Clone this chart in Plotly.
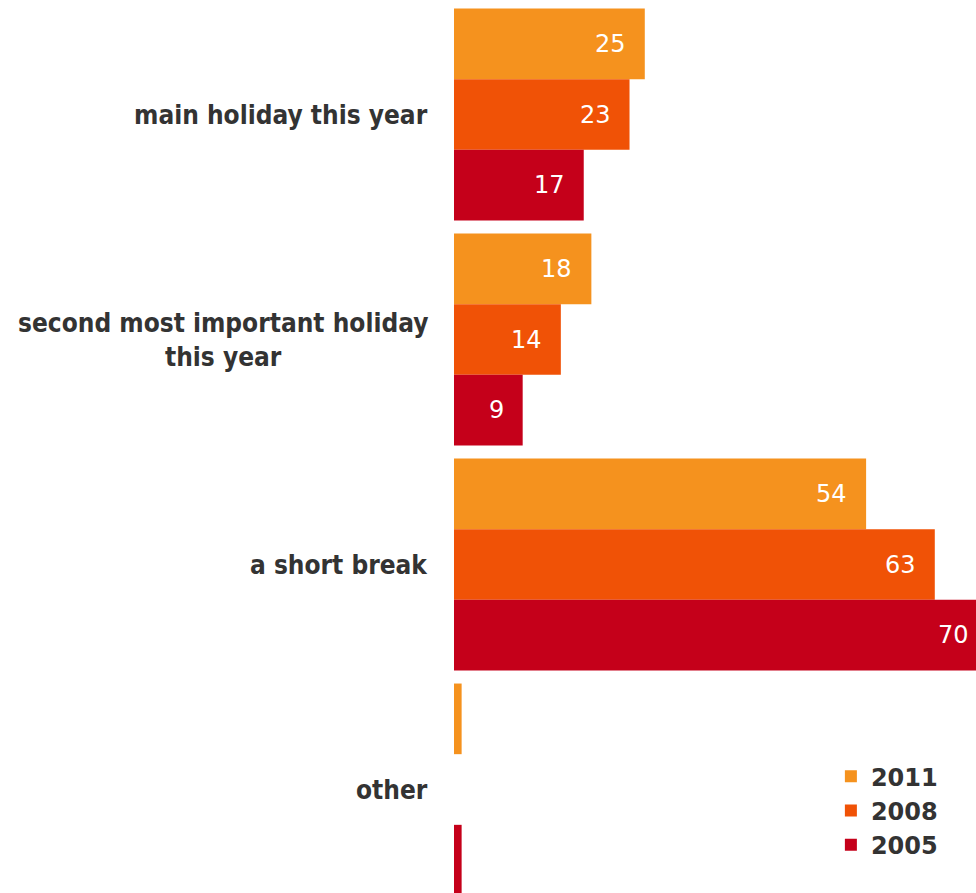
import plotly.graph_objects as go

# Share of respondents by type of trip, per survey year
categories = [
    "main holiday this year",
    "second most important holiday<br>this year",
    "a short break",
    "other",
]
years = ["2011", "2008", "2005"]
values_2011 = [25, 18, 54, 1]
values_2008 = [23, 14, 63, 0]
values_2005 = [17, 9, 70, 1]
series = [values_2011, values_2008, values_2005]
colors = ["#F5921E", "#F05206", "#C5001A"]

LABEL_FONT = "DejaVu Sans"
BARGAP = 0.058
X_MAX = 68.4

fig = go.Figure()
for year, vals, col in zip(years, series, colors):
    fig.add_trace(go.Bar(
        name=year,
        y=categories,
        x=vals,
        orientation="h",
        marker=dict(color=col, line=dict(width=0)),
        cliponaxis=True,
    ))

# Value labels placed just inside the end of each bar; x is expressed as a
# fraction of the axis range so labels of bars running past the edge stay drawn
bar_w = (1 - BARGAP) / len(series)
for i, vals in enumerate(series):
    offset = (i - (len(series) - 1) / 2) * bar_w
    for j, v in enumerate(vals):
        if v < 5:
            continue
        fig.add_annotation(
            x=v / X_MAX, xref="paper", y=j + offset, yref="y",
            text=str(v), xanchor="right", yanchor="middle",
            xshift=-17, showarrow=False,
            font=dict(family=LABEL_FONT, size=24, color="white"),
        )

# Category labels drawn as centred multi-line text to the left of the bars
for cat in categories:
    fig.add_annotation(
        x=0, xref="paper", y=cat, yref="y",
        text=f"<b>{cat}</b>",
        xanchor="right", yanchor="middle", align="center",
        xshift=-24, showarrow=False,
        font=dict(family="DejaVu Sans Condensed, DejaVu Sans", size=26, color="#333333"),
    )

fig.update_layout(
    width=976, height=893,
    margin=dict(l=454, r=0, t=2, b=0),
    paper_bgcolor="white", plot_bgcolor="white",
    barmode="group", bargap=BARGAP, bargroupgap=0,
    showlegend=True,
    legend=dict(
        x=0.722, y=0.029, xanchor="left", yanchor="bottom",
        font=dict(family=LABEL_FONT, size=24, color="#333333", weight="bold"),
        bgcolor="rgba(0,0,0,0)", tracegroupgap=0,
    ),
    xaxis=dict(range=[0, X_MAX], visible=False, showgrid=False, zeroline=False),
    yaxis=dict(
        type="category", categoryorder="array", categoryarray=categories,
        range=[3.46, -0.5], showticklabels=False, showgrid=False,
        zeroline=False, showline=False, ticks="",
    ),
)

fig.write_html("out.html")
